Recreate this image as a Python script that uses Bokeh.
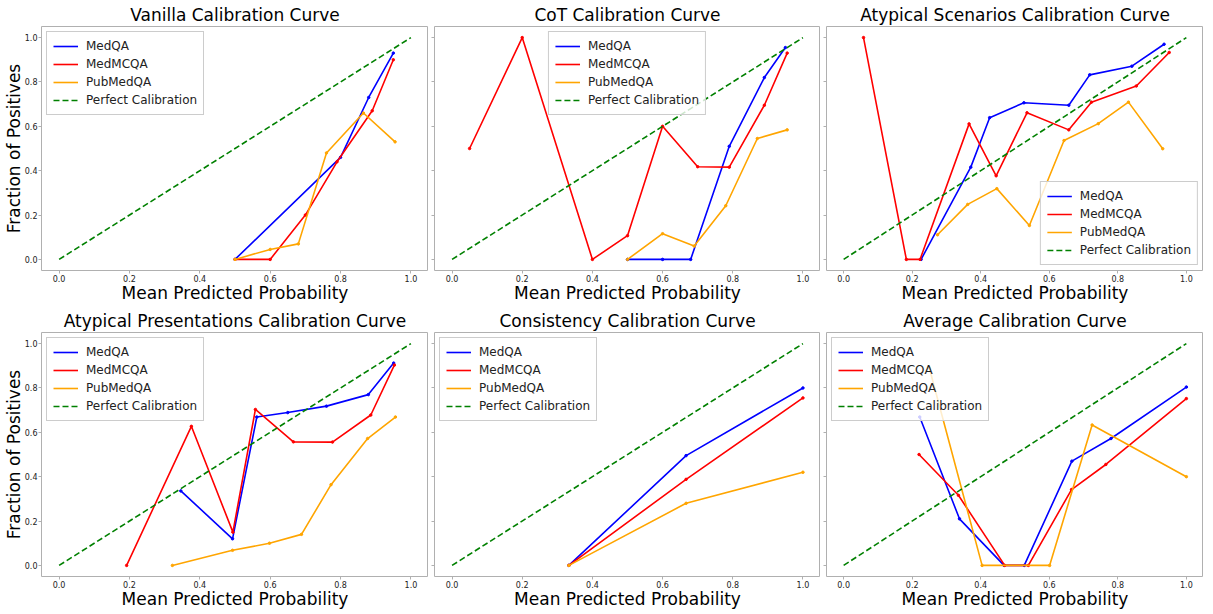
from bokeh.plotting import figure
from bokeh.layouts import column, row
from bokeh.models import Range1d, FixedTicker, PrintfTickFormatter, CustomJSTickFormatter
from bokeh.embed import file_html
from bokeh.resources import INLINE

# ---------------- data ----------------
series_names = ["MedQA", "MedMCQA", "PubMedQA"]
series_colors = ["blue", "red", "orange"]
ticks = [0.0, 0.2, 0.4, 0.6, 0.8, 1.0]
perfect_x = [0.0, 1.0]
perfect_y = [0.0, 1.0]

# Vanilla
vanilla_medqa_x = [0.50, 0.80, 0.88, 0.95]
vanilla_medqa_y = [0.00, 0.46, 0.73, 0.93]
vanilla_medmcqa_x = [0.50, 0.60, 0.70, 0.79, 0.89, 0.95]
vanilla_medmcqa_y = [0.00, 0.00, 0.20, 0.44, 0.67, 0.90]
vanilla_pubmedqa_x = [0.50, 0.60, 0.68, 0.76, 0.865, 0.955]
vanilla_pubmedqa_y = [0.00, 0.045, 0.07, 0.48, 0.66, 0.53]

# CoT
cot_medqa_x = [0.50, 0.60, 0.68, 0.79, 0.89, 0.95]
cot_medqa_y = [0.00, 0.00, 0.00, 0.51, 0.82, 0.955]
cot_medmcqa_x = [0.05, 0.20, 0.40, 0.50, 0.60, 0.70, 0.79, 0.89, 0.955]
cot_medmcqa_y = [0.50, 1.00, 0.00, 0.107, 0.60, 0.418, 0.416, 0.695, 0.93]
cot_pubmedqa_x = [0.50, 0.60, 0.69, 0.78, 0.87, 0.955]
cot_pubmedqa_y = [0.00, 0.116, 0.06, 0.242, 0.545, 0.584]

# Atypical Scenarios
scen_medqa_x = [0.226, 0.371, 0.426, 0.526, 0.657, 0.718, 0.841, 0.935]
scen_medqa_y = [0.00, 0.416, 0.639, 0.706, 0.695, 0.832, 0.871, 0.970]
scen_medmcqa_x = [0.058, 0.183, 0.223, 0.366, 0.445, 0.535, 0.657, 0.723, 0.854, 0.950]
scen_medmcqa_y = [1.00, 0.00, 0.00, 0.611, 0.377, 0.661, 0.584, 0.709, 0.782, 0.933]
scen_pubmedqa_x = [0.274, 0.362, 0.447, 0.542, 0.643, 0.743, 0.831, 0.931]
scen_pubmedqa_y = [0.111, 0.248, 0.319, 0.153, 0.536, 0.612, 0.709, 0.499]

# Atypical Presentations
pres_medqa_x = [0.346, 0.493, 0.562, 0.65, 0.76, 0.879, 0.951]
pres_medqa_y = [0.336, 0.12, 0.669, 0.689, 0.718, 0.77, 0.912]
pres_medmcqa_x = [0.192, 0.376, 0.494, 0.558, 0.666, 0.777, 0.886, 0.953]
pres_medmcqa_y = [0.00, 0.627, 0.15, 0.703, 0.557, 0.556, 0.678, 0.903]
pres_pubmedqa_x = [0.322, 0.493, 0.598, 0.689, 0.773, 0.877, 0.956]
pres_pubmedqa_y = [0.00, 0.068, 0.10, 0.14, 0.364, 0.572, 0.669]

# Consistency
cons_x = [0.333, 0.667, 1.0]
cons_medqa_y = [0.00, 0.495, 0.80]
cons_medmcqa_y = [0.00, 0.388, 0.755]
cons_pubmedqa_y = [0.00, 0.28, 0.42]

# Average
avg_medqa_x = [0.222, 0.338, 0.468, 0.527, 0.666, 0.78, 1.0]
avg_medqa_y = [0.669, 0.21, 0.00, 0.00, 0.47, 0.572, 0.804]
avg_medmcqa_x = [0.22, 0.335, 0.47, 0.539, 0.665, 0.765, 1.0]
avg_medmcqa_y = [0.50, 0.316, 0.00, 0.00, 0.342, 0.455, 0.752]
avg_pubmedqa_x = [0.25, 0.404, 0.601, 0.725, 1.0]
avg_pubmedqa_y = [0.89, 0.00, 0.00, 0.633, 0.40]

panels = [
    ("Vanilla Calibration Curve",
     [(vanilla_medqa_x, vanilla_medqa_y), (vanilla_medmcqa_x, vanilla_medmcqa_y), (vanilla_pubmedqa_x, vanilla_pubmedqa_y)],
     "top_left"),
    ("CoT Calibration Curve",
     [(cot_medqa_x, cot_medqa_y), (cot_medmcqa_x, cot_medmcqa_y), (cot_pubmedqa_x, cot_pubmedqa_y)],
     "top"),
    ("Atypical Scenarios Calibration Curve",
     [(scen_medqa_x, scen_medqa_y), (scen_medmcqa_x, scen_medmcqa_y), (scen_pubmedqa_x, scen_pubmedqa_y)],
     "bottom_right"),
    ("Atypical Presentations Calibration Curve",
     [(pres_medqa_x, pres_medqa_y), (pres_medmcqa_x, pres_medmcqa_y), (pres_pubmedqa_x, pres_pubmedqa_y)],
     "top_left"),
    ("Consistency Calibration Curve",
     [(cons_x, cons_medqa_y), (cons_x, cons_medmcqa_y), (cons_x, cons_pubmedqa_y)],
     "top_left"),
    ("Average Calibration Curve",
     [(avg_medqa_x, avg_medqa_y), (avg_medmcqa_x, avg_medmcqa_y), (avg_pubmedqa_x, avg_pubmedqa_y)],
     "top_left"),
]

FONT = "DejaVu Sans"
SPINE = "#b0b0b0"
frame_widths = [387, 386, 377]
FRAME_H = 244


def make_panel(idx, title, series, legend_loc):
    col = idx % 3
    rw = idx // 3
    p = figure(
        frame_width=frame_widths[col], frame_height=FRAME_H,
        x_range=Range1d(-0.05, 1.05), y_range=Range1d(-0.05, 1.05),
        output_backend="svg", toolbar_location=None,
        min_border_left=35 if col == 0 else 6,
        min_border_right=0,
        min_border_top=0,
        min_border_bottom=36 if rw == 0 else 0,
    )
    p.title.text = title
    p.title.text_font = FONT
    p.title.text_font_size = "17px"
    p.title.text_font_style = "normal"
    p.title.text_color = "black"
    p.title.align = "center"
    p.title.standoff = 4
    p.xgrid.visible = False
    p.ygrid.visible = False
    p.outline_line_color = SPINE
    p.outline_line_alpha = 1.0
    p.outline_line_width = 1
    p.background_fill_color = "white"
    p.border_fill_color = "white"

    for ax in (p.xaxis[0], p.yaxis[0]):
        ax.ticker = FixedTicker(ticks=ticks)
        ax.formatter = PrintfTickFormatter(format="%.1f")
        ax.axis_line_color = None
        ax.major_tick_line_color = SPINE
        ax.major_tick_out = 3
        ax.major_tick_in = 0
        ax.minor_tick_line_color = None
        ax.major_label_text_font = FONT
        ax.major_label_text_font_size = "8px"
        ax.major_label_text_color = "#222222"
        ax.major_label_standoff = 1
        ax.axis_label_text_font = FONT
        ax.axis_label_text_font_size = "17px"
        ax.axis_label_text_font_style = "normal"
        ax.axis_label_text_color = "black"
        ax.axis_label_standoff = -2

    p.xaxis.axis_label = "Mean Predicted Probability"
    if col == 0:
        p.yaxis.axis_label = "Fraction of Positives"
    else:
        p.yaxis.formatter = CustomJSTickFormatter(code="return '';")
        p.yaxis.major_label_standoff = 0

    for (xs, ys), name, color in zip(series, series_names, series_colors):
        p.line(xs, ys, line_color=color, line_width=1.6, legend_label=name)
        p.scatter(xs, ys, size=2.5, fill_color=color, line_color=color)
    p.line(perfect_x, perfect_y, line_color="green", line_width=1.6, line_dash="6 3",
           legend_label="Perfect Calibration")

    lg = p.legend[0]
    lg.location = legend_loc
    lg.label_text_font = FONT
    lg.label_text_font_size = "12px"
    lg.label_text_color = "#222222"
    lg.glyph_width = 25
    lg.glyph_height = 16
    lg.label_height = 16
    lg.label_standoff = 8
    lg.spacing = 2
    lg.padding = 6
    lg.margin = 5
    lg.border_line_color = "#cccccc"
    lg.border_line_alpha = 1.0
    lg.background_fill_alpha = 0.8
    return p


figs = [make_panel(i, t, s, loc) for i, (t, s, loc) in enumerate(panels)]
layout = column(row(*figs[:3]), row(*figs[3:]))

open("out.html", "w").write(file_html(layout, INLINE))
